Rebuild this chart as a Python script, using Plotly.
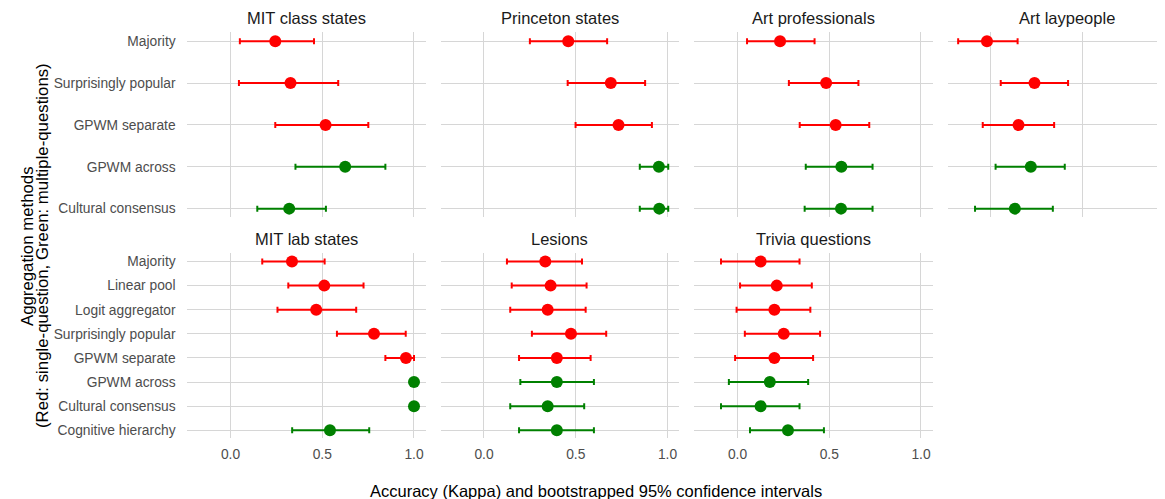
import plotly.graph_objects as go

W, H = 1165, 499

# ---------------- data ----------------
top_methods = ["Majority", "Surprisingly popular", "GPWM separate", "GPWM across", "Cultural consensus"]
top_groups = ["single", "single", "single", "multiple", "multiple"]

bottom_methods = ["Majority", "Linear pool", "Logit aggregator", "Surprisingly popular",
                  "GPWM separate", "GPWM across", "Cultural consensus", "Cognitive hierarchy"]
bottom_groups = ["single", "single", "single", "single", "single", "multiple", "multiple", "multiple"]

panel_titles = ["MIT class states", "Princeton states", "Art professionals", "Art laypeople",
                "MIT lab states", "Lesions", "Trivia questions"]

# Top row (5 methods): estimate, lower CI, upper CI
mit_class_est = [0.244, 0.327, 0.518, 0.625, 0.320]
mit_class_lo = [0.051, 0.046, 0.244, 0.354, 0.146]
mit_class_hi = [0.455, 0.587, 0.751, 0.844, 0.520]

princeton_est = [0.459, 0.691, 0.733, 0.953, 0.955]
princeton_lo = [0.250, 0.456, 0.499, 0.849, 0.849]
princeton_hi = [0.671, 0.878, 0.915, 1.004, 1.004]

art_pro_est = [0.232, 0.483, 0.535, 0.566, 0.564]
art_pro_lo = [0.052, 0.280, 0.339, 0.372, 0.366]
art_pro_hi = [0.420, 0.659, 0.718, 0.736, 0.736]

art_lay_est = [-0.022, 0.237, 0.150, 0.217, 0.130]
art_lay_lo = [-0.179, 0.053, -0.045, 0.025, -0.087]
art_lay_hi = [0.145, 0.420, 0.344, 0.402, 0.337]

# Bottom row (8 methods)
mit_lab_est = [0.335, 0.511, 0.467, 0.782, 0.956, 1.000, 1.000, 0.542]
mit_lab_lo = [0.173, 0.315, 0.256, 0.580, 0.844, 1.000, 1.000, 0.336]
mit_lab_hi = [0.513, 0.725, 0.685, 0.955, 1.000, 1.000, 1.000, 0.756]

lesions_est = [0.334, 0.363, 0.347, 0.474, 0.397, 0.397, 0.347, 0.397]
lesions_lo = [0.125, 0.151, 0.143, 0.261, 0.191, 0.198, 0.143, 0.191]
lesions_hi = [0.534, 0.559, 0.554, 0.666, 0.581, 0.599, 0.546, 0.599]

trivia_est = [0.126, 0.214, 0.201, 0.252, 0.201, 0.176, 0.126, 0.275]
trivia_lo = [-0.090, 0.014, -0.005, 0.040, -0.013, -0.047, -0.090, 0.068]
trivia_hi = [0.338, 0.405, 0.397, 0.450, 0.412, 0.385, 0.338, 0.471]

x_tickvals = [0, 0.5, 1.0]
x_ticktext = ["0.0", "0.5", "1.0"]

x_title = "Accuracy (Kappa) and bootstrapped 95% confidence intervals"
y_title_1 = "Aggregation methods"
y_title_2 = "(Red: single-question, Green: multiple-questions)"

group_colors = {"single": "#FF0000", "multiple": "#008000"}

panels = [
    (top_methods, top_groups, mit_class_est, mit_class_lo, mit_class_hi),
    (top_methods, top_groups, princeton_est, princeton_lo, princeton_hi),
    (top_methods, top_groups, art_pro_est, art_pro_lo, art_pro_hi),
    (top_methods, top_groups, art_lay_est, art_lay_lo, art_lay_hi),
    (bottom_methods, bottom_groups, mit_lab_est, mit_lab_lo, mit_lab_hi),
    (bottom_methods, bottom_groups, lesions_est, lesions_lo, lesions_hi),
    (bottom_methods, bottom_groups, trivia_est, trivia_lo, trivia_hi),
]

# ---------------- layout geometry (window pixels) ----------------
OFF = 8.0  # page body margin: the figure starts 8 px right/down in the window
XMIN, XMAX = -0.235, 1.063
PX_PER_UNIT = 183.5
zero_px = [230.5, 484.0, 737.5, 991.0]
rows_px = [(32.0, 217.0), (253.3, 438.3)]
title_y_px = [18.0, 239.0]
y_ranges = [[4.2, -0.22], [7.33, -0.34]]


def px_x(p):
    return (p - OFF) / W


def px_y(p):
    return 1 - (p - OFF) / H


FONT = "Liberation Sans, Arial, Helvetica, sans-serif"
GRID = "#d6d6d6"
TICK_SIZE = 13.8

fig = go.Figure()
layout = dict(
    width=W, height=H,
    margin=dict(l=0, r=0, t=0, b=0),
    paper_bgcolor="white", plot_bgcolor="white",
    showlegend=False,
    font=dict(family=FONT, size=TICK_SIZE, color="#4d4d4d"),
)
annotations = []

for i, (methods, groups, est, lo, hi) in enumerate(panels):
    row = 0 if i < 4 else 1
    col = i if i < 4 else i - 4
    left_px = zero_px[col] + XMIN * PX_PER_UNIT
    right_px_full = zero_px[col] + XMAX * PX_PER_UNIT
    right_px = min(right_px_full, W)
    xr_hi = (right_px - zero_px[col]) / PX_PER_UNIT
    top_px, bot_px = rows_px[row]
    n = i + 1
    xa = "x" if n == 1 else f"x{n}"
    ya = "y" if n == 1 else f"y{n}"
    xkey = "xaxis" if n == 1 else f"xaxis{n}"
    ykey = "yaxis" if n == 1 else f"yaxis{n}"

    for g in ["single", "multiple"]:
        idx = [k for k, gg in enumerate(groups) if gg == g]
        xs = [est[k] for k in idx]
        ys = [methods[k] for k in idx]
        plus = [hi[k] - est[k] for k in idx]
        minus = [est[k] - lo[k] for k in idx]
        fig.add_trace(go.Scatter(
            x=xs, y=ys, mode="markers", xaxis=xa, yaxis=ya,
            marker=dict(color=group_colors[g], size=12, line=dict(width=0)),
            error_x=dict(type="data", symmetric=False, array=plus, arrayminus=minus,
                         color=group_colors[g], thickness=2, width=3),
            hoverinfo="x+y",
        ))

    layout[xkey] = dict(
        domain=[px_x(left_px), px_x(right_px)], anchor=ya,
        range=[XMIN, xr_hi], tickvals=x_tickvals, ticktext=x_ticktext,
        showgrid=True, gridcolor=GRID, gridwidth=1.2, zeroline=False, showline=False,
        showticklabels=(row == 1), ticks="outside" if row == 1 else "", ticklen=3,
        tickcolor="rgba(0,0,0,0)", fixedrange=True,
        tickfont=dict(family=FONT, size=TICK_SIZE, color="#4d4d4d"),
    )
    layout[ykey] = dict(
        domain=[px_y(bot_px), px_y(top_px)], anchor=xa,
        type="category", categoryorder="array", categoryarray=methods,
        range=y_ranges[row],
        showgrid=True, gridcolor=GRID, gridwidth=1.2, zeroline=False, showline=False,
        showticklabels=(col == 0), ticks="outside" if col == 0 else "", ticklen=8,
        tickcolor="rgba(0,0,0,0)", fixedrange=True,
        tickfont=dict(family=FONT, size=TICK_SIZE, color="#4d4d4d"),
    )
    annotations.append(dict(
        text=panel_titles[i], x=px_x((left_px + right_px_full) / 2), y=px_y(title_y_px[row]),
        xref="paper", yref="paper", xanchor="center", yanchor="middle", showarrow=False,
        font=dict(family=FONT, size=16.5, color="#1a1a1a"),
    ))

annotations.append(dict(
    text=x_title, x=px_x(596), y=px_y(491), xref="paper", yref="paper",
    xanchor="center", yanchor="middle", showarrow=False,
    font=dict(family=FONT, size=16.5, color="#000000"),
))
annotations.append(dict(
    text=y_title_1, x=px_x(27), y=px_y(246), xref="paper", yref="paper",
    xanchor="center", yanchor="middle", showarrow=False, textangle=-90,
    font=dict(family=FONT, size=16.8, color="#000000"),
))
annotations.append(dict(
    text=y_title_2, x=px_x(42), y=px_y(246), xref="paper", yref="paper",
    xanchor="center", yanchor="middle", showarrow=False, textangle=-90,
    font=dict(family=FONT, size=16.8, color="#000000"),
))

layout["annotations"] = annotations
fig.update_layout(**layout)
fig.write_html("out.html")
